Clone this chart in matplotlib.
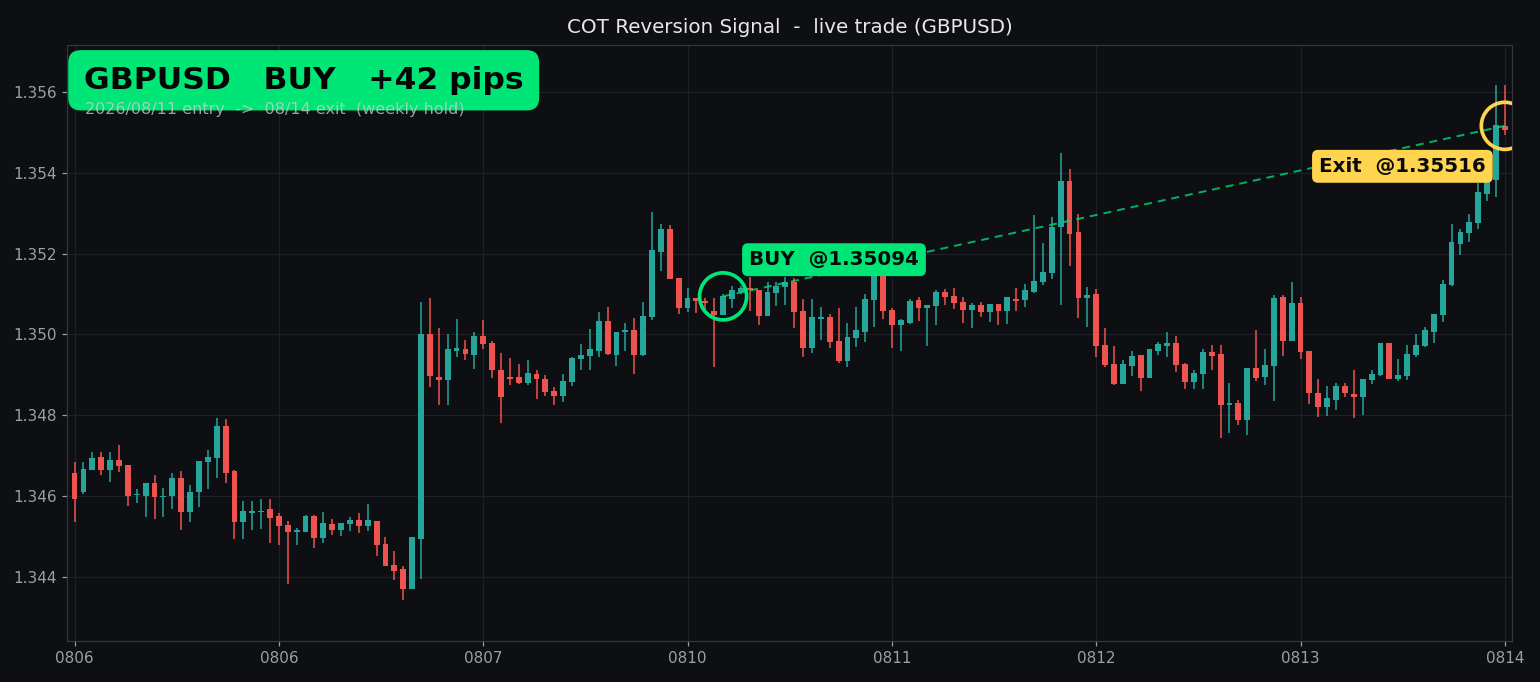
import matplotlib
matplotlib.use("Agg")
import matplotlib.pyplot as plt
import numpy as np

# ---------------- data ----------------
opens = [1.34658,1.34609,1.34665,1.34696,1.34665,1.34688,1.34676,1.34602,1.34600,1.34631,
         1.34597,1.34599,1.34644,1.34561,1.34609,1.34683,1.34693,1.34772,1.34662,1.34536,
         1.34559,1.34560,1.34567,1.34550,1.34527,1.34510,1.34512,1.34550,1.34497,1.34530,
         1.34516,1.34530,1.34540,1.34525,1.34537,1.34482,1.34430,1.34420,1.34370,1.34493,
         1.35002,1.34894,1.34886,1.34960,1.34963,1.34948,1.34995,1.34978,1.34911,1.34894,
         1.34894,1.34880,1.34903,1.34889,1.34861,1.34848,1.34881,1.34938,1.34946,1.34960,
         1.35032,1.34950,1.35005,1.35012,1.34948,1.35042,1.35205,1.35260,1.35139,1.35064,
         1.35089,1.35082,1.35057,1.35047,1.35087,1.35104,1.35114,1.35109,1.35045,1.35102,
         1.35116,1.35129,1.35057,1.34965,1.35039,1.35042,1.34983,1.34933,1.34990,1.35007,
         1.35084,1.35164,1.35060,1.35022,1.35027,1.35084,1.35064,1.35069,1.35104,1.35094,
         1.35079,1.35060,1.35072,1.35055,1.35074,1.35057,1.35087,1.35084,1.35106,1.35129,
         1.35151,1.35265,1.35379,1.35253,1.35089,1.35099,1.34973,1.34926,1.34876,1.34921,
         1.34948,1.34891,1.34960,1.34970,1.34978,1.34926,1.34881,1.34901,1.34956,1.34951,
         1.34824,1.34829,1.34787,1.34916,1.34894,1.34921,1.35092,1.34983,1.35077,1.34958,
         1.34856,1.34819,1.34837,1.34871,1.34852,1.34844,1.34886,1.34899,1.34978,1.34889,
         1.34896,1.34948,1.34970,1.35007,1.35047,1.35121,1.35223,1.35250,1.35275,1.35347,
         1.35382,1.35516]
highs = [1.34684,1.34684,1.34709,1.34709,1.34709,1.34726,1.34677,1.34617,1.34631,1.34651,
         1.34621,1.34656,1.34662,1.34626,1.34686,1.34715,1.34792,1.34790,1.34664,1.34587,
         1.34587,1.34592,1.34592,1.34558,1.34538,1.34521,1.34552,1.34552,1.34560,1.34542,
         1.34532,1.34547,1.34558,1.34580,1.34537,1.34499,1.34463,1.34428,1.34498,1.35079,
         1.35089,1.35016,1.35002,1.35038,1.34986,1.35005,1.35035,1.34983,1.34953,1.34941,
         1.34927,1.34936,1.34913,1.34899,1.34869,1.34902,1.34943,1.34975,1.35013,1.35055,
         1.35068,1.35007,1.35027,1.35040,1.35080,1.35304,1.35272,1.35270,1.35139,1.35114,
         1.35091,1.35090,1.35089,1.35100,1.35119,1.35120,1.35142,1.35109,1.35129,1.35129,
         1.35141,1.35139,1.35087,1.35087,1.35067,1.35050,1.35064,1.35027,1.35067,1.35099,
         1.35179,1.35179,1.35064,1.35037,1.35087,1.35092,1.35072,1.35109,1.35111,1.35114,
         1.35092,1.35077,1.35079,1.35074,1.35074,1.35092,1.35114,1.35124,1.35295,1.35225,
         1.35290,1.35448,1.35408,1.35297,1.35118,1.35111,1.35015,1.34970,1.34936,1.34958,
         1.34948,1.34963,1.34980,1.35005,1.34995,1.34928,1.34913,1.34963,1.34973,1.34973,
         1.34879,1.34837,1.34916,1.35010,1.34963,1.35097,1.35097,1.35129,1.35092,1.34960,
         1.34889,1.34871,1.34879,1.34879,1.34911,1.34889,1.34911,1.34978,1.34978,1.34938,
         1.34973,1.35000,1.35017,1.35050,1.35134,1.35272,1.35260,1.35297,1.35374,1.35431,
         1.35617,1.35617]
lows = [1.34536,1.34605,1.34664,1.34652,1.34635,1.34660,1.34575,1.34583,1.34549,1.34544,
        1.34549,1.34567,1.34517,1.34536,1.34573,1.34617,1.34645,1.34633,1.34493,1.34493,
        1.34516,1.34519,1.34484,1.34479,1.34383,1.34479,1.34510,1.34472,1.34484,1.34504,
        1.34502,1.34514,1.34508,1.34514,1.34452,1.34427,1.34393,1.34342,1.34370,1.34395,
        1.34870,1.34826,1.34826,1.34943,1.34936,1.34915,1.34963,1.34891,1.34781,1.34875,
        1.34878,1.34875,1.34841,1.34848,1.34826,1.34833,1.34871,1.34913,1.34913,1.34943,
        1.34950,1.34922,1.34959,1.34901,1.34946,1.35035,1.35157,1.35136,1.35050,1.35055,
        1.35054,1.35060,1.34918,1.35047,1.35064,1.35100,1.35059,1.35022,1.35045,1.35069,
        1.35072,1.35015,1.34943,1.34953,1.34985,1.34965,1.34928,1.34918,1.34968,1.34980,
        1.35017,1.35037,1.34965,1.34960,1.35025,1.35032,1.34970,1.35022,1.35072,1.35062,
        1.35027,1.35015,1.35042,1.35030,1.35022,1.35025,1.35057,1.35067,1.35102,1.35121,
        1.35136,1.35072,1.35168,1.35040,1.35017,1.34943,1.34918,1.34874,1.34876,1.34896,
        1.34859,1.34891,1.34948,1.34943,1.34906,1.34864,1.34864,1.34864,1.34913,1.34743,
        1.34755,1.34775,1.34750,1.34884,1.34874,1.34834,1.34946,1.34983,1.34938,1.34827,
        1.34795,1.34797,1.34814,1.34844,1.34792,1.34800,1.34876,1.34898,1.34889,1.34884,
        1.34886,1.34943,1.34968,1.34978,1.35030,1.35119,1.35196,1.35228,1.35260,1.35329,
        1.35341,1.35493]
closes = [1.34592,1.34668,1.34693,1.34665,1.34688,1.34673,1.34599,1.34604,1.34631,1.34597,
          1.34600,1.34644,1.34561,1.34611,1.34686,1.34696,1.34772,1.34658,1.34536,1.34562,
          1.34561,1.34564,1.34546,1.34525,1.34510,1.34516,1.34550,1.34497,1.34532,1.34516,
          1.34532,1.34540,1.34525,1.34540,1.34479,1.34427,1.34415,1.34370,1.34498,1.35002,
          1.34896,1.34886,1.34963,1.34965,1.34952,1.34995,1.34975,1.34911,1.34844,1.34889,
          1.34880,1.34904,1.34889,1.34858,1.34848,1.34884,1.34941,1.34949,1.34963,1.35032,
          1.34951,1.35007,1.35011,1.34948,1.35045,1.35208,1.35260,1.35136,1.35064,1.35089,
          1.35082,1.35078,1.35047,1.35094,1.35109,1.35114,1.35109,1.35045,1.35104,1.35119,
          1.35129,1.35055,1.34965,1.35042,1.35042,1.34980,1.34933,1.34993,1.35012,1.35087,
          1.35164,1.35057,1.35022,1.35035,1.35082,1.35064,1.35072,1.35104,1.35092,1.35077,
          1.35060,1.35072,1.35055,1.35074,1.35057,1.35092,1.35082,1.35109,1.35131,1.35154,
          1.35265,1.35379,1.35248,1.35089,1.35097,1.34970,1.34923,1.34876,1.34926,1.34946,
          1.34891,1.34963,1.34975,1.34978,1.34923,1.34881,1.34904,1.34956,1.34946,1.34824,
          1.34829,1.34787,1.34916,1.34891,1.34923,1.35089,1.34983,1.35077,1.34956,1.34854,
          1.34819,1.34842,1.34871,1.34854,1.34844,1.34889,1.34901,1.34978,1.34889,1.34899,
          1.34951,1.34973,1.35010,1.35050,1.35124,1.35228,1.35253,1.35277,1.35352,1.35423,
          1.35517,1.35506]

tick_labels = ["0806", "0806", "0807", "0810", "0811", "0812", "0813", "0814"]
tick_positions = [0, 23, 46, 69, 92, 115, 138, 161]
y_ticks = [1.344, 1.346, 1.348, 1.350, 1.352, 1.354, 1.356]

entry_idx, entry_price = 73, 1.35094
exit_idx, exit_price = 161, 1.35516

title = "COT Reversion Signal  -  live trade (GBPUSD)"
headline = "GBPUSD   BUY   +42 pips"
subline = "2026/08/11 entry  ->  08/14 exit  (weekly hold)"

# ---------------- style ----------------
BG = "#0d0f13"
UP = "#26a69a"
DOWN = "#ef5350"
GREEN = "#00e676"
YELLOW = "#ffd54f"

o = np.array(opens); h = np.array(highs); l = np.array(lows); c = np.array(closes)
x = np.arange(len(o))
up = c >= o
cols = np.where(up, UP, DOWN)

fig = plt.figure(figsize=(14, 6.2), dpi=110, facecolor=BG)
ax = fig.add_axes([0.0438, 0.0606, 0.9380, 0.8734], facecolor=BG)

ax.vlines(x, l, h, colors=cols, linewidth=1.0, zorder=2)
body_bottom = np.minimum(o, c)
body_h = np.maximum(np.abs(c - o), 0.00003)
ax.bar(x, body_h, bottom=body_bottom, width=0.66, color=cols, edgecolor="none", zorder=3)

# trade line
ax.plot([entry_idx, exit_idx], [entry_price, exit_price], linestyle="--", color=GREEN,
        alpha=0.75, linewidth=1.3, dashes=(4, 3), zorder=4)
ax.scatter([entry_idx], [entry_price], s=950, facecolors="none", edgecolors=GREEN,
           linewidths=2.4, zorder=6)
ax.scatter([exit_idx], [exit_price], s=950, facecolors="none", edgecolors=YELLOW,
           linewidths=2.4, zorder=6)

ax.annotate(f"BUY  @{entry_price:.5f}", xy=(entry_idx, entry_price), xytext=(17, 24),
            textcoords="offset points", ha="left", va="center", fontsize=13,
            fontweight="bold", color="#0a0a0a", zorder=7,
            bbox=dict(boxstyle="round,pad=0.35,rounding_size=0.3", fc=GREEN, ec="none"))
ax.annotate(f"Exit  @{exit_price:.5f}", xy=(exit_idx, exit_price), xytext=(-12.5, -26.5),
            textcoords="offset points", ha="right", va="center", fontsize=13,
            fontweight="bold", color="#0a0a0a", zorder=7,
            bbox=dict(boxstyle="round,pad=0.35,rounding_size=0.3", fc=YELLOW, ec="none"))

ax.text(0.0114, 0.9265, headline, transform=ax.transAxes, ha="left", va="baseline",
        fontsize=20.5, fontweight="bold", color="#050505", zorder=8,
        bbox=dict(boxstyle="round,pad=0.5,rounding_size=0.4", fc=GREEN, ec="none"))
ax.text(0.0121, 0.8842, subline, transform=ax.transAxes, ha="left", va="baseline",
        fontsize=10.5, color="#d0d0d0", alpha=0.75, zorder=9)

ax.set_xlim(-0.8, 161.8)
ax.set_ylim(1.34242, 1.35716)
ax.set_xticks(tick_positions)
ax.set_xticklabels(tick_labels)
ax.set_yticks(y_ticks)
ax.set_yticklabels([f"{v:.3f}" for v in y_ticks])
ax.tick_params(colors="#9aa0a6", labelsize=10, length=3.5, width=0.8)
ax.grid(True, color="#1d2127", linewidth=0.8, zorder=0)
ax.set_axisbelow(True)
for s in ax.spines.values():
    s.set_color("#33373d")
    s.set_linewidth(0.8)

ax.set_title(title, color="#e8e8e8", fontsize=13, pad=8)

fig.savefig("out.png", dpi=110, facecolor=BG)
